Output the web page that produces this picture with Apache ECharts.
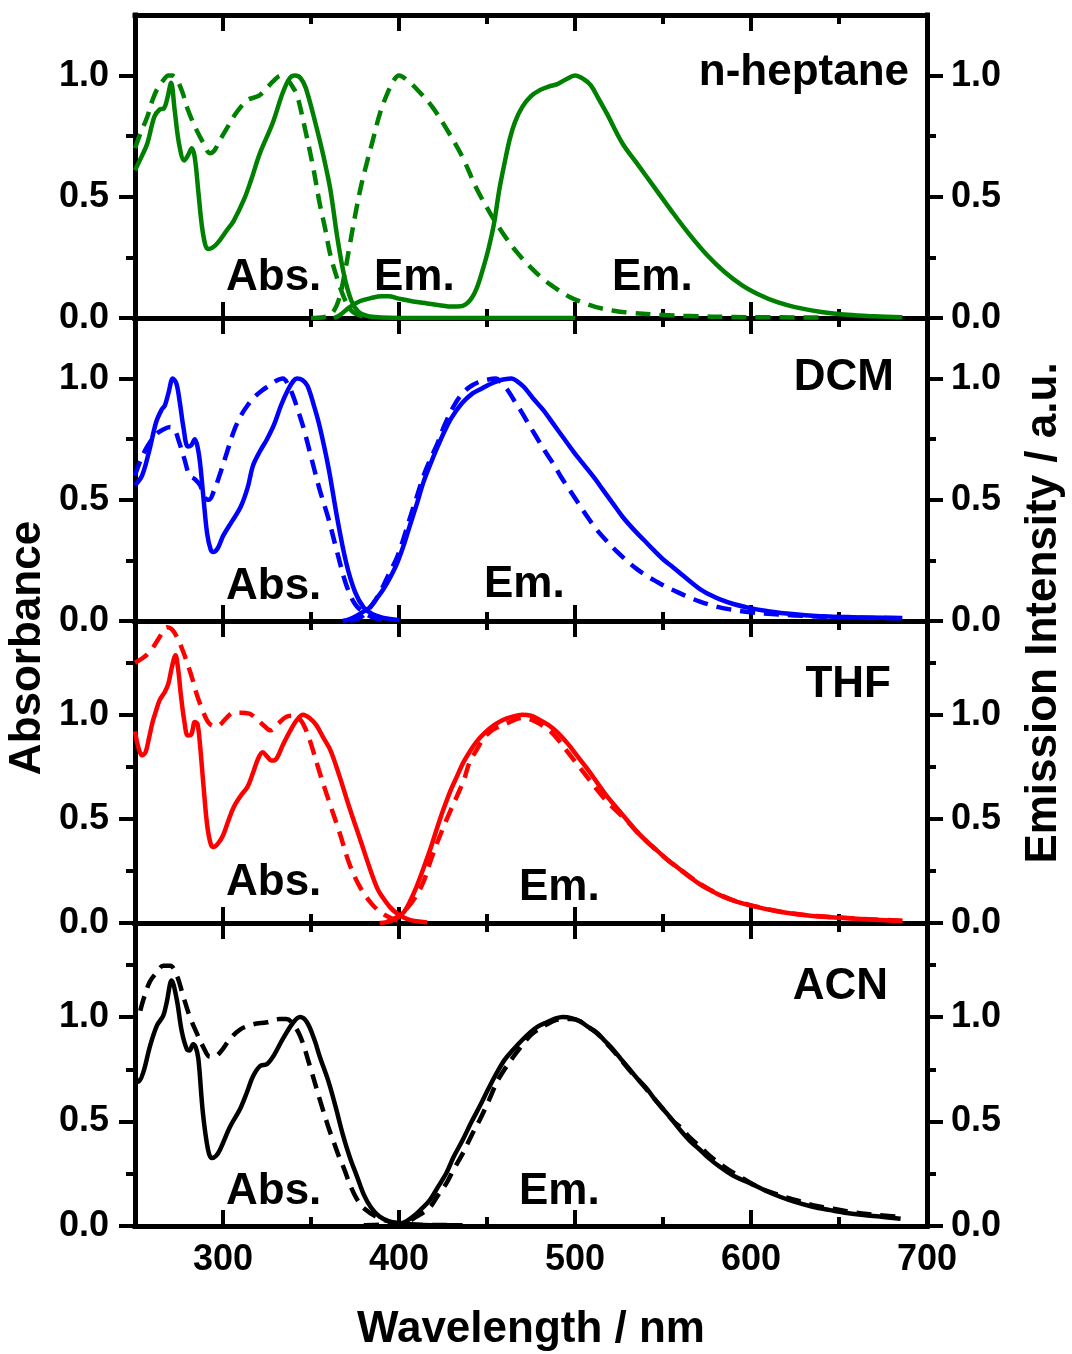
<!DOCTYPE html>
<html>
<head>
<meta charset="utf-8">
<script src="https://cdn.jsdelivr.net/npm/echarts@6/dist/echarts.min.js"></script>
<style>
  html, body { margin: 0; padding: 0; background: #fff; }
  #chart { width: 1072px; height: 1354px; }
</style>
</head>
<body>
<div id="chart"></div>
<script>
// Wavelength axis (nm)
const xMajorTicks = [300, 400, 500, 600, 700];
const xMinorTicks = [350, 450, 550, 650];

// Normalised spectra, [wavelength nm, value]
// n-heptane
const heptaneAbs = [[250,0.61],[254,0.67],[257,0.72],[261,0.83],[264,0.86],[266.5,0.865],[268.5,0.91],[270.5,0.97],[272.5,0.86],[275,0.72],[278,0.65],[280,0.67],[282.3,0.70],[284,0.66],[286,0.52],[288,0.38],[290,0.30],[291.5,0.285],[294,0.29],[297,0.31],[302,0.36],[306,0.40],[312,0.49],[316,0.57],[321,0.68],[328,0.80],[334,0.93],[338,0.99],[341,1.0],[344,0.99],[347,0.95],[353,0.79],[357,0.67],[361,0.53],[365,0.33],[369,0.17],[373,0.07],[377,0.025],[382,0.008],[390,0.002],[400,0],[500,0]];
const heptaneAbsDash = [[250,0.70],[253,0.76],[257,0.83],[260,0.90],[263,0.95],[266,0.98],[269,1.0],[271,1.0],[274,0.98],[277,0.93],[280,0.86],[285,0.775],[289,0.72],[292.5,0.68],[295,0.69],[298,0.73],[302,0.78],[306,0.83],[310,0.87],[314,0.90],[318,0.91],[321,0.92],[325,0.95],[329,0.98],[333,1.0],[336,0.99],[339,0.96],[342,0.92],[346,0.80],[351,0.63],[355,0.47],[358,0.37],[361,0.26],[365,0.16],[369,0.08],[373,0.03],[378,0.01],[385,0]];
const heptaneEm = [[363,0],[366,0.01],[372,0.045],[378,0.07],[384,0.082],[390,0.09],[394,0.09],[400,0.08],[408,0.068],[416,0.06],[423,0.053],[430,0.047],[435,0.048],[440,0.07],[444,0.12],[448,0.21],[451,0.29],[454,0.39],[457,0.53],[460,0.64],[463,0.74],[466,0.81],[470,0.87],[475,0.915],[480,0.94],[485,0.955],[490,0.965],[495,0.985],[500,1.0],[505,0.985],[509,0.96],[513,0.91],[518,0.845],[527,0.72],[535,0.64],[545,0.54],[555,0.44],[565,0.345],[575,0.26],[585,0.19],[595,0.135],[605,0.095],[615,0.065],[625,0.045],[640,0.025],[655,0.013],[670,0.007],[686,0.003]];
const heptaneEmDash = [[350,0],[357,0.003],[362,0.02],[366,0.08],[369,0.18],[372,0.30],[375,0.42],[378,0.53],[381,0.62],[385,0.73],[389,0.84],[393,0.92],[397,0.98],[400,1.0],[404,0.985],[410,0.945],[419,0.87],[427,0.78],[436,0.665],[444,0.535],[452,0.43],[459,0.35],[466,0.28],[474,0.215],[482,0.16],[490,0.118],[497,0.087],[505,0.062],[512,0.045],[522,0.03],[531,0.022],[550,0.012],[565,0.008],[590,0.004],[640,0.002]];

// DCM
const dcmAbs = [[250,0.56],[254,0.60],[258,0.70],[262,0.82],[265,0.87],[267,0.89],[269,0.94],[271.5,1.0],[273.5,0.98],[275.5,0.90],[277.5,0.80],[280,0.72],[282,0.725],[284,0.75],[285.5,0.72],[287,0.65],[289,0.50],[291,0.36],[293,0.295],[294.5,0.285],[297,0.30],[300,0.35],[305,0.41],[310,0.47],[314,0.55],[317,0.64],[321,0.70],[325,0.75],[329,0.81],[333,0.89],[337,0.955],[340,0.99],[342,1.0],[345,0.995],[348,0.97],[352,0.88],[355,0.80],[360,0.63],[365,0.42],[370,0.24],[375,0.12],[380,0.055],[385,0.028],[390,0.015],[395,0.008],[400,0.004]];
const dcmAbsDash = [[250,0.60],[253,0.66],[257,0.72],[262,0.77],[266,0.79],[270,0.80],[272.5,0.79],[275,0.74],[278,0.67],[281,0.60],[284,0.585],[287,0.56],[289.5,0.51],[292,0.50],[295,0.54],[298,0.60],[302,0.69],[306,0.78],[310,0.845],[314,0.89],[318,0.925],[322,0.95],[326,0.97],[330,0.99],[334,1.0],[337,0.975],[340,0.925],[343,0.86],[346,0.79],[351,0.65],[355,0.54],[360,0.42],[365,0.28],[370,0.15],[375,0.07],[380,0.035],[385,0.015],[390,0.005],[395,0]];
const dcmEm = [[368,0],[372,0.008],[376,0.022],[380,0.04],[384,0.06],[388,0.10],[391,0.13],[395,0.18],[399,0.24],[403,0.32],[406,0.39],[410,0.48],[414,0.575],[418,0.65],[422,0.72],[426,0.785],[430,0.84],[436,0.90],[442,0.94],[446,0.955],[451,0.975],[456,0.99],[460,0.997],[464,1.0],[467,0.99],[471,0.965],[476,0.92],[482,0.87],[488,0.81],[493,0.76],[499,0.70],[505,0.645],[511,0.59],[516,0.54],[522,0.48],[527,0.43],[533,0.38],[539,0.335],[545,0.29],[550,0.255],[556,0.22],[561,0.19],[566,0.16],[571,0.132],[577,0.107],[582,0.09],[590,0.07],[599,0.054],[608,0.042],[617,0.033],[635,0.022],[655,0.016],[686,0.012]];
const dcmEmDash = [[372,0.002],[376,0.008],[380,0.025],[385,0.07],[389,0.115],[394,0.19],[399,0.265],[403,0.35],[406,0.42],[410,0.51],[414,0.60],[418,0.67],[422,0.735],[426,0.81],[431,0.885],[435,0.93],[440,0.965],[445,0.985],[450,0.995],[455,1.0],[458,0.985],[461.5,0.955],[465,0.915],[469,0.87],[473,0.82],[478,0.76],[483,0.70],[488,0.645],[492,0.595],[497,0.54],[502,0.485],[507,0.43],[512,0.38],[518,0.33],[524,0.285],[530,0.245],[535,0.215],[541,0.185],[547,0.16],[552,0.14],[558,0.12],[564,0.10],[571,0.08],[580,0.06],[588,0.048],[600,0.036],[612,0.029],[625,0.023],[640,0.018],[660,0.014],[686,0.011]];

// THF
const thfAbs = [[250,0.92],[252,0.84],[254,0.805],[256,0.82],[258,0.89],[260,0.965],[262,1.02],[264,1.07],[267,1.11],[269,1.15],[271,1.23],[273,1.285],[274.5,1.22],[276,1.10],[278,0.97],[280,0.90],[282,0.905],[284,0.965],[285.5,0.955],[287,0.85],[289,0.65],[291,0.47],[293,0.38],[294.5,0.365],[297,0.38],[300,0.42],[303,0.49],[306,0.555],[310,0.61],[314,0.655],[317,0.72],[320,0.79],[322.5,0.82],[325,0.80],[327.5,0.78],[330,0.785],[334,0.855],[338,0.92],[342,0.975],[345.5,1.0],[349,0.985],[353,0.95],[357,0.89],[361,0.83],[366,0.71],[372,0.55],[378,0.40],[383.5,0.26],[388,0.16],[391,0.12],[395,0.075],[399,0.045],[403,0.025],[406,0.015],[410,0.008],[416,0.003]];
const thfAbsDash = [[250,1.25],[254,1.27],[257,1.29],[260,1.32],[263,1.36],[266,1.40],[268,1.42],[271,1.41],[274,1.37],[277.5,1.30],[280,1.24],[282.5,1.175],[285,1.10],[288,1.03],[291.5,0.965],[295,0.945],[298,0.95],[302,0.985],[306,1.01],[310,1.01],[315,1.005],[319,0.98],[323,0.95],[327,0.925],[331,0.955],[336,0.99],[340,0.995],[344,0.975],[347,0.93],[350,0.86],[355,0.72],[360,0.59],[366,0.44],[372,0.28],[378,0.17],[385,0.087],[390,0.05],[395,0.025],[399,0.012],[403,0.004]];
const thfEm = [[389,0],[393,0.004],[396,0.012],[399,0.024],[403,0.055],[406,0.10],[410,0.175],[414,0.265],[418,0.36],[421.6,0.455],[425,0.54],[429,0.63],[433,0.705],[436.5,0.77],[440,0.82],[444,0.87],[449,0.915],[454,0.95],[459,0.975],[464,0.99],[470,1.0],[475,0.995],[480,0.975],[485,0.95],[490,0.915],[496,0.86],[501,0.805],[507,0.74],[512.5,0.675],[518,0.61],[524,0.55],[530,0.49],[535,0.44],[541,0.39],[547,0.345],[553,0.30],[559,0.262],[565,0.222],[571,0.186],[577,0.157],[582,0.135],[590,0.108],[599,0.086],[608,0.068],[616.5,0.054],[625,0.043],[635,0.034],[645,0.028],[655,0.023],[670,0.016],[686,0.01]];
const thfEmDash = [[393,0.005],[397,0.02],[400.6,0.038],[405,0.075],[410,0.134],[414,0.20],[417.6,0.29],[421,0.37],[425,0.455],[429,0.535],[433,0.61],[437,0.69],[440,0.77],[444,0.83],[448,0.885],[452,0.92],[456,0.94],[460,0.955],[463,0.965],[467,0.98],[470.5,0.985],[474,0.98],[478,0.965],[482,0.945],[486,0.92],[490,0.885],[495,0.83],[501,0.765],[507,0.70],[512.5,0.64],[518,0.585],[524,0.535],[530,0.485],[535,0.44],[541,0.39],[547,0.345],[553,0.30],[559,0.262],[565,0.224],[571,0.188],[577,0.158],[582,0.136],[590,0.109],[599,0.087],[608,0.069],[616,0.055],[625,0.044],[635,0.035],[645,0.029],[655,0.024],[670,0.017],[686,0.011]];

// ACN
const acnAbs = [[250,0.72],[252,0.69],[254.7,0.735],[258.5,0.86],[262.5,0.96],[266,1.005],[268,1.07],[270.8,1.175],[273.7,1.085],[276.6,0.93],[279.5,0.845],[281,0.84],[283,0.87],[284.5,0.855],[286,0.80],[288.6,0.54],[291.5,0.365],[293.6,0.325],[296,0.335],[298.3,0.365],[304,0.475],[309.7,0.56],[313.6,0.64],[317,0.715],[321,0.765],[325,0.775],[328.4,0.81],[334,0.895],[340,0.975],[343.8,1.0],[347.7,0.975],[352,0.89],[355,0.81],[360,0.69],[364,0.57],[368,0.44],[372,0.33],[376,0.24],[380,0.15],[384,0.09],[389,0.045],[395,0.02],[400.6,0.012],[410,0.006],[420,0.004],[436,0.003]];
const acnAbsDash = [[253,1.03],[255,1.09],[258.5,1.17],[262.5,1.215],[266,1.245],[270,1.245],[273.7,1.20],[277.4,1.10],[281,1.005],[285,0.925],[288.6,0.86],[292.6,0.81],[295,0.81],[298.3,0.83],[304,0.895],[309.7,0.94],[317,0.965],[325,0.975],[332,0.99],[336,0.99],[339,0.975],[343.8,0.91],[349.4,0.765],[355,0.605],[360,0.47],[363,0.40],[366,0.33],[369,0.27],[372,0.20],[376,0.13],[380,0.085],[389,0.037],[399,0.014],[410,0.006],[436,0.004]];
const acnEm = [[395,0.01],[400.6,0.012],[404,0.022],[408,0.045],[412,0.075],[417.6,0.125],[422,0.185],[427,0.255],[431,0.33],[436.4,0.415],[441,0.495],[446,0.575],[451,0.66],[455.7,0.735],[460,0.795],[465,0.845],[470,0.89],[474.4,0.925],[479,0.955],[484,0.975],[489,0.993],[493,1.0],[498,0.995],[502.8,0.98],[507,0.955],[512.5,0.925],[517,0.885],[521.6,0.845],[526,0.80],[531,0.75],[536,0.70],[541,0.655],[545,0.61],[550,0.56],[555,0.51],[559.7,0.46],[565,0.41],[571,0.365],[576,0.325],[582,0.285],[590,0.24],[599.4,0.205],[608,0.17],[616.5,0.14],[625,0.115],[635,0.092],[645,0.076],[654.5,0.062],[664,0.052],[673,0.045],[685,0.035]];
const acnEmDash = [[380,0.003],[390,0.006],[398,0.01],[404.5,0.02],[410,0.045],[417.6,0.09],[422,0.145],[427,0.205],[431,0.27],[436.4,0.35],[441,0.43],[446,0.51],[451,0.60],[455.7,0.69],[460,0.75],[465,0.81],[470,0.865],[474.4,0.91],[479,0.94],[484,0.965],[489,0.985],[493,0.99],[498,0.99],[502.8,0.98],[508,0.95],[514,0.91],[520,0.855],[525.6,0.80],[531,0.745],[537,0.69],[543,0.63],[550,0.56],[556,0.50],[559.7,0.475],[565,0.425],[571,0.38],[576,0.34],[582,0.30],[588,0.265],[594,0.235],[601,0.20],[609,0.168],[616,0.148],[622,0.132],[628,0.118],[635,0.10],[643,0.088],[650.6,0.077],[658,0.066],[666,0.057],[675,0.05],[683,0.045]];

// Panel text
const solventNames = ['n-heptane', 'DCM', 'THF', 'ACN'];
const panelColors = ['#008000', '#0000ff', '#ff0000', '#000000'];
const panelYMax = [1.25, 1.25, 1.45, 1.45];
const yMajorTicks = [0, 0.5, 1.0];
const yMinorTicks = [[0.25, 0.75], [0.25, 0.75], [0.25, 0.75, 1.25], [0.25, 0.75, 1.25]];

const FONT = '"Liberation Sans", Arial, Helvetica, sans-serif';

// layout of the four stacked plots
const gridLeft = 135, gridRight = 145;
const panelTops = [15, 318, 621, 923];
const panelHeights = [303, 303, 302, 303];

const curves = [
  [heptaneAbs, heptaneAbsDash, heptaneEm, heptaneEmDash],
  [dcmAbs, dcmAbsDash, dcmEm, dcmEmDash],
  [thfAbs, thfAbsDash, thfEm, thfEmDash],
  [acnAbs, acnAbsDash, acnEm, acnEmDash]
];

const grids = [], xAxes = [], yAxes = [], series = [];
const tickLabelStyle = { color: '#000', fontSize: 36, fontWeight: 'bold', fontFamily: FONT };

panelTops.forEach((top, gi) => {
  grids.push({ left: gridLeft, right: gridRight, top: top, height: panelHeights[gi], containLabel: false });
  const isLast = gi === panelTops.length - 1;
  const line = { show: true, onZero: false, lineStyle: { color: '#000', width: 5, cap: 'square' } };
  const noLine = { show: false, onZero: false };
  const baseX = { gridIndex: gi, type: 'value', min: 250, max: 700, splitLine: { show: false } };
  // x: bottom major, bottom minor, top major, top minor
  [['bottom', xMajorTicks, 16, true], ['bottom', xMinorTicks, 9, false],
   ['top', xMajorTicks, 16, true], ['top', xMinorTicks, 9, false]].forEach(([pos, vals, len, major]) => {
    xAxes.push(Object.assign({}, baseX, {
      position: pos,
      axisLine: major ? line : noLine,
      axisTick: { show: true, inside: true, length: len, customValues: vals, lineStyle: { color: '#000', width: 4 } },
      axisLabel: (major && pos === 'bottom' && isLast)
        ? Object.assign({ show: true, customValues: xMajorTicks, margin: 16, formatter: v => String(v) }, tickLabelStyle)
        : { show: false }
    }));
  });
  const baseY = { gridIndex: gi, type: 'value', min: 0, max: panelYMax[gi], splitLine: { show: false } };
  [['left', yMajorTicks, 16, true], ['left', yMinorTicks[gi], 9, false],
   ['right', yMajorTicks, 16, true], ['right', yMinorTicks[gi], 9, false]].forEach(([pos, vals, len, major]) => {
    yAxes.push(Object.assign({}, baseY, {
      position: pos,
      axisLine: major ? line : noLine,
      axisTick: { show: true, inside: false, length: len, customValues: vals, lineStyle: { color: '#000', width: 4 } },
      axisLabel: major
        ? Object.assign({ show: true, customValues: yMajorTicks, margin: pos === 'left' ? 26 : 24, formatter: v => v.toFixed(1) }, tickLabelStyle)
        : { show: false }
    }));
  });
  curves[gi].forEach((data, ci) => {
    series.push({
      type: 'line',
      xAxisIndex: gi * 4,
      yAxisIndex: gi * 4,
      data: data,
      showSymbol: false,
      symbol: 'none',
      smooth: 0.35,
      silent: true,
      lineStyle: { color: panelColors[gi], width: 4.5, type: ci % 2 === 1 ? [15, 9] : 'solid', join: 'round' },
      z: ci % 2 === 1 ? 3 : 2
    });
  });
});

const bigFont = 'bold 44px ' + FONT;
function label(text, x, y, align) {
  return { type: 'text', x: x, y: y, z: 10,
    style: { text: text, font: bigFont, fill: '#000', align: align, textAlign: align, verticalAlign: 'middle', textVerticalAlign: 'middle' } };
}

const graphics = [
  label('Abs.', 226, 278, 'left'), label('Em.', 374, 278, 'left'), label('Em.', 612, 278, 'left'),
  label(solventNames[0], 909, 73, 'right'),
  label('Abs.', 226, 587, 'left'), label('Em.', 484, 585, 'left'),
  label(solventNames[1], 894, 378, 'right'),
  label('Abs.', 226, 883, 'left'), label('Em.', 519, 888, 'left'),
  label(solventNames[2], 891, 685, 'right'),
  label('Abs.', 226, 1192, 'left'), label('Em.', 519, 1192, 'left'),
  label(solventNames[3], 888, 987, 'right'),
  // axis titles
  label('Wavelength / nm', 531, 1330, 'center'),
  Object.assign(label('Absorbance', 28, 648, 'center'), { rotation: Math.PI / 2 }),
  Object.assign(label('Emission Intensity / a.u.', 1044, 613, 'center'), { rotation: Math.PI / 2 })
];

const chart = echarts.init(document.getElementById('chart'), null, { renderer: 'canvas' });
chart.setOption({
  animation: false,
  backgroundColor: '#fff',
  grid: grids,
  xAxis: xAxes,
  yAxis: yAxes,
  series: series,
  graphic: graphics
});
</script>
</body>
</html>
